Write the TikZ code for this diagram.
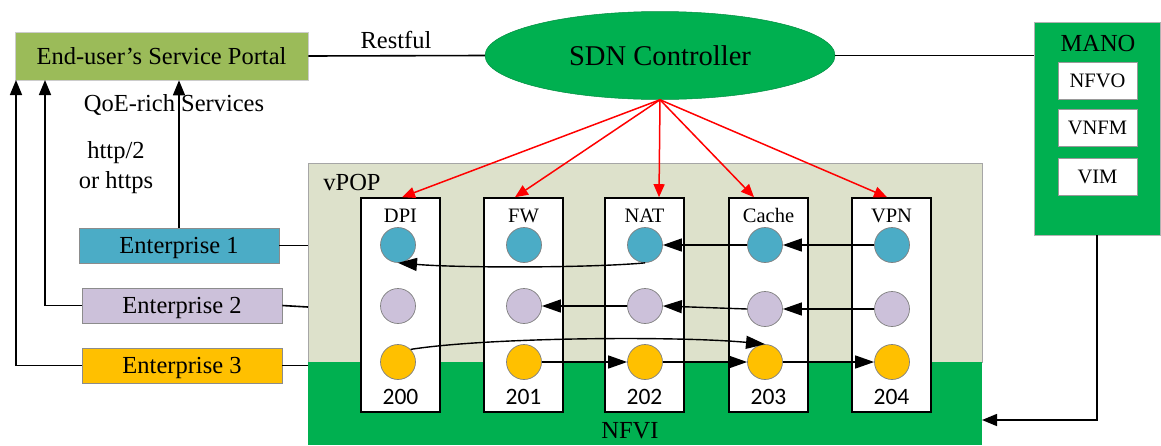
\documentclass[tikz,border=0pt]{standalone}
\usepackage{fontspec}
\setmainfont{Liberation Serif}
\newfontfamily\numfont{Carlito}
\usetikzlibrary{arrows.meta,shapes.geometric,calc}
\definecolor{portalgreen}{HTML}{9BBB59}
\definecolor{brightgreen}{HTML}{00B050}
\definecolor{vpopgray}{HTML}{DDE1CB}
\definecolor{entblue}{HTML}{4BACC6}
\definecolor{entlav}{HTML}{CCC1DA}
\definecolor{entorange}{HTML}{FFC000}
\definecolor{redarrow}{HTML}{FF0000}
\begin{document}
\begin{tikzpicture}[x=1pt,y=-1pt,
  big/.style={font=\rmfamily\fontsize{24.5}{28}\selectfont,text height=16.2pt,text depth=0pt,inner sep=0pt},
  mid/.style={font=\rmfamily\fontsize{20.5}{24}\selectfont,text height=13.6pt,text depth=0pt,inner sep=0pt},
  num/.style={font=\numfont\fontsize{23.5}{26}\selectfont,text height=14.9pt,text depth=0pt,inner sep=0pt},
  conn/.style={line width=1.6pt},
  upflow/.style={line width=1.6pt,-{Triangle[length=15pt,width=12pt]}},
  flow/.style={line width=1.4pt,-{Triangle[length=19pt,width=13pt]}},
  ctrlarrow/.style={draw=redarrow,line width=1.5pt,-{Triangle[length=13pt,width=11pt]}},
  entbox/.style={big,draw=black!45,line width=0.8pt,minimum width=200pt,minimum height=35pt},
  vnfbox/.style={draw=black,line width=1.6pt,fill=white,minimum width=79pt,minimum height=214pt,inner sep=0pt},
  vnfc/.style={circle,draw=black!50,line width=0.7pt,minimum size=35pt,inner sep=0pt},
  manosub/.style={mid,draw=black!40,line width=0.8pt,fill=white,minimum width=79pt,minimum height=37pt}
]
\useasboundingbox (0,0) rectangle (1161,445);

% regions
\node[fill=vpopgray,draw=black!35,line width=0.8pt,minimum width=674pt,minimum height=199pt,inner sep=0pt] (vpop) at (645,262.5) {};
\node[fill=brightgreen,minimum width=674pt,minimum height=83pt,inner sep=0pt] (nfvi) at (645,403.5) {};
\node[big] (vpoplbl) at (352,182) {vPOP};
\node[big] (nfvilbl) at (630,430) {NFVI};

% top row
\node[big,fill=portalgreen,draw=black!20,line width=0.6pt,minimum width=293pt,minimum height=48pt] (portal) at (161.5,56) {End-user’s Service Portal};
\node[ellipse,fill=brightgreen,draw=brightgreen!80!black,line width=0.5pt,minimum width=350pt,minimum height=88pt,inner sep=0pt,
      font=\rmfamily\fontsize{28.6}{32}\selectfont,text height=19pt,text depth=0pt] (ctl) at (660,55.5) {SDN Controller};
\node[fill=brightgreen,draw=black!30,line width=0.6pt,minimum width=126pt,minimum height=213pt,inner sep=0pt] (mano) at (1097,128.5) {};
\node[big] (manolbl) at (1098,43) {MANO};
\node[manosub] (nfvo) at (1097.5,80.5) {NFVO};
\node[manosub] (vnfm) at (1097.5,128) {VNFM};
\node[manosub] (vim) at (1097.5,176.5) {VIM};

\draw[conn] (portal.east) -- (ctl.west);
\node[big] (restful) at (396,40) {Restful};
\draw[conn] (ctl.east) -- (ctl.east -| mano.west);

% enterprises
\node[entbox,fill=entblue] (e1) at (179,245.5) {Enterprise 1};
\node[entbox,fill=entlav] (e2) at (182,305.5) {Enterprise 2};
\node[entbox,fill=entorange] (e3) at (182,365.5) {Enterprise 3};

\node[big] (qoe) at (174,103) {QoE-rich Services};
\node[font=\rmfamily\fontsize{24.5}{28}\selectfont,inner sep=0pt,anchor=base] (http) at (116,158) {http/2};
\node[font=\rmfamily\fontsize{24.5}{28}\selectfont,inner sep=0pt,anchor=base] (https) at (116,188.3) {or https};

\coordinate (p2) at (45,80);
\coordinate (p3) at (16,80);
\coordinate (v2) at (308,307);
\draw[upflow] (e1.north) -- (e1.north |- portal.south);
\draw[upflow] (e2.west) -| (p2);
\draw[upflow] (e3.west) -| (p3);
\draw[conn] (e1.east) -- (e1.east -| vpop.west);
\draw[conn] (e2.east) -- (v2);
\draw[conn] (e3.east) -- (e3.east -| vpop.west);

% VNF boxes
\foreach \n/\x/\lbl/\num in {dpi/400.5/DPI/200, fw/523.5/FW/201, nat/644.5/NAT/202, cache/768.5/Cache/203, vpn/891.5/VPN/204}{
  \node[vnfbox] (\n) at (\x,305) {};
  \node[mid] (\n-lbl) at (\x,216) {\lbl};
  \node[num] (\n-num) at (\x,397.5) {\num};
}

% circles
\foreach \n/\x/\ly in {d/398/306, f/524/306, n/645/306, c/765/309, v/892/309}{
  \node[vnfc,fill=entblue] (\n-b) at (\x,245) {};
  \node[vnfc,fill=entlav] (\n-l) at (\x,\ly) {};
  \node[vnfc,fill=entorange] (\n-o) at (\x,362) {};
}

% red control arrows
\draw[ctrlarrow] (ctl.south) -- ([xshift=1.5pt]dpi.north);
\draw[ctrlarrow] (ctl.south) -- ([xshift=-8.5pt]fw.north);
\draw[ctrlarrow] (ctl.south) -- ([xshift=14.5pt]nat.north);
\draw[ctrlarrow] (ctl.south) -- ([xshift=-14.5pt]cache.north);
\draw[ctrlarrow] (ctl.south) -- ([xshift=-4.5pt]vpn.north);

% flows: enterprise 1 (blue)
\draw[flow] (v-b.west) -- (c-b.east);
\draw[flow] (c-b.west) -- (n-b.east);
\draw[flow] (n-b.south) .. controls (590,268) and (460,268) .. (d-b.south);
% enterprise 2 (lavender)
\draw[flow] (v-l.west) -- (c-l.east);
\draw[flow] (c-l.west) -- (n-l.east);
\draw[flow] (n-l.west) -- (f-l.east);
% enterprise 3 (orange)
\draw[flow] (d-o.north east) .. controls (490,337) and (680,336) .. (c-o.north);
\draw[flow] (f-o.east) -- (n-o.west);
\draw[flow] (n-o.east) -- (c-o.west);
\draw[flow] (c-o.east) -- (v-o.west);

% MANO to NFVI
\coordinate (nfvin) at (982,420);
\draw[upflow] (mano.south) |- (nfvin);
\end{tikzpicture}
\end{document}
